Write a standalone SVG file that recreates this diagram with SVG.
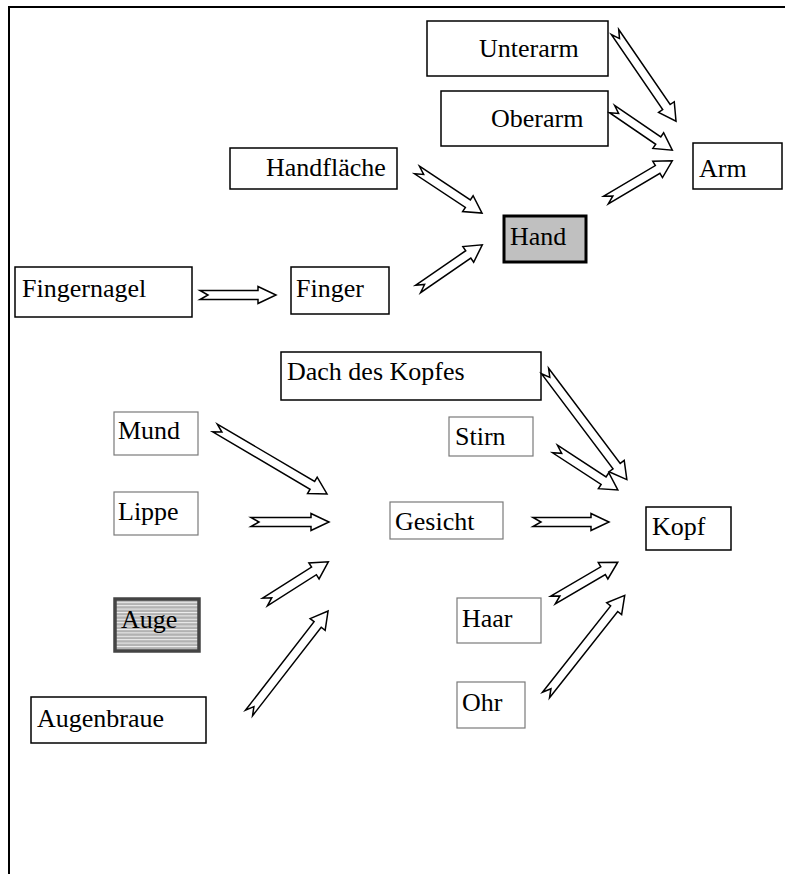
<svg xmlns="http://www.w3.org/2000/svg" width="785" height="874" viewBox="0 0 785 874">
  <style>
    .box { fill: #ffffff; stroke: #000000; stroke-width: 1.5; }
    .thin { fill: #ffffff; stroke: #7a7a7a; stroke-width: 1.2; }
    .lbl { font-family: "Liberation Serif", "Times New Roman", serif; font-size: 26px; fill: #000000; }
    .arr { fill: #ffffff; stroke: #000000; stroke-width: 1.5; stroke-linejoin: miter; }
    .frame { fill: none; stroke: #000000; stroke-width: 2; }
  </style>
  <defs>
    <pattern id="stripes" patternUnits="userSpaceOnUse" width="8" height="3.4">
      <rect width="8" height="3.4" fill="#b2b2b2"/>
      <rect y="0" width="8" height="1" fill="#f0f0f0"/>
    </pattern>
  </defs>

  <!-- page frame -->
  <path class="frame" d="M9,874 V7 H785"/>

  <!-- arm hierarchy -->
  <g id="unterarm"><rect class="box" x="427" y="21" width="181" height="55"/><text class="lbl" x="479" y="57">Unterarm</text></g>
  <g id="oberarm"><rect class="box" x="441" y="91" width="167" height="55"/><text class="lbl" x="491" y="127">Oberarm</text></g>
  <g id="arm"><rect class="box" x="693" y="143" width="89" height="46"/><text class="lbl" x="699" y="177">Arm</text></g>
  <g id="handflaeche"><rect class="box" x="230" y="148" width="167" height="41"/><text class="lbl" x="266" y="176">Handfläche</text></g>
  <g id="hand"><rect x="504" y="216" width="82" height="46" fill="#c0c0c0" stroke="#000000" stroke-width="3"/><text class="lbl" x="510" y="245">Hand</text></g>
  <g id="fingernagel"><rect class="box" x="15" y="267" width="177" height="50"/><text class="lbl" x="22" y="297">Fingernagel</text></g>
  <g id="finger"><rect class="box" x="291" y="267" width="98" height="47"/><text class="lbl" x="296" y="297">Finger</text></g>

  <!-- head hierarchy -->
  <g id="dach-des-kopfes"><rect class="box" x="281" y="352" width="260" height="48"/><text class="lbl" x="287" y="380">Dach des Kopfes</text></g>
  <g id="mund"><rect class="thin" x="114" y="412" width="84" height="43"/><text class="lbl" x="118" y="439">Mund</text></g>
  <g id="stirn"><rect class="thin" x="449" y="417" width="84" height="39"/><text class="lbl" x="455" y="445">Stirn</text></g>
  <g id="lippe"><rect class="thin" x="114" y="492" width="84" height="43"/><text class="lbl" x="118" y="520">Lippe</text></g>
  <g id="gesicht"><rect class="thin" x="390" y="502" width="113" height="37"/><text class="lbl" x="395" y="530">Gesicht</text></g>
  <g id="kopf"><rect class="box" x="646" y="507" width="85" height="43"/><text class="lbl" x="652" y="535">Kopf</text></g>
  <g id="auge"><rect x="115" y="599" width="84" height="52" fill="url(#stripes)" stroke="#444444" stroke-width="3.5"/><text class="lbl" x="121" y="628">Auge</text></g>
  <g id="haar"><rect class="thin" x="457" y="598" width="84" height="45"/><text class="lbl" x="462" y="627">Haar</text></g>
  <g id="ohr"><rect class="thin" x="457" y="682" width="68" height="46"/><text class="lbl" x="462" y="711">Ohr</text></g>
  <g id="augenbraue"><rect class="box" x="31" y="697" width="175" height="46"/><text class="lbl" x="37" y="727">Augenbraue</text></g>

  <!-- notched block arrows: tail at origin, tip at (L,0) -->
  <g id="connectors">
    <polygon class="arr" transform="translate(615,32) rotate(55.6)" points="0,-4.5 91,-4.5 91,-9.5 108,0 91,9.5 91,4.5 0,4.5 8,0"/>
    <polygon class="arr" transform="translate(612,109) rotate(34.3)" points="0,-4.5 56,-4.5 56,-9.5 73,0 56,9.5 56,4.5 0,4.5 8,0"/>
    <polygon class="arr" transform="translate(606,200) rotate(-30.6)" points="0,-4.5 60,-4.5 60,-9.5 77,0 60,9.5 60,4.5 0,4.5 8,0"/>
    <polygon class="arr" transform="translate(417,170) rotate(33.5)" points="0,-4.5 61,-4.5 61,-9.5 78,0 61,9.5 61,4.5 0,4.5 8,0"/>
    <polygon class="arr" transform="translate(418,289) rotate(-34.5)" points="0,-4.5 61,-4.5 61,-9.5 78,0 61,9.5 61,4.5 0,4.5 8,0"/>
    <polygon class="arr" transform="translate(200,295)" points="0,-4.5 58,-4.5 58,-8.5 76,0 58,8.5 58,4.5 0,4.5 8,0"/>
    <polygon class="arr" transform="translate(545,371) rotate(53)" points="0,-4.5 119,-4.5 119,-9.5 136,0 119,9.5 119,4.5 0,4.5 8,0"/>
    <polygon class="arr" transform="translate(555,449) rotate(33.1)" points="0,-4.5 58,-4.5 58,-9.5 75,0 58,9.5 58,4.5 0,4.5 8,0"/>
    <polygon class="arr" transform="translate(533,522)" points="0,-4.5 58,-4.5 58,-8.5 76,0 58,8.5 58,4.5 0,4.5 8,0"/>
    <polygon class="arr" transform="translate(553,600) rotate(-30.3)" points="0,-4.5 58,-4.5 58,-9.5 75,0 58,9.5 58,4.5 0,4.5 8,0"/>
    <polygon class="arr" transform="translate(546,695) rotate(-51.7)" points="0,-4.5 110,-4.5 110,-9.5 127,0 110,9.5 110,4.5 0,4.5 8,0"/>
    <polygon class="arr" transform="translate(215,428) rotate(30.5)" points="0,-4.5 113,-4.5 113,-9.5 130,0 113,9.5 113,4.5 0,4.5 8,0"/>
    <polygon class="arr" transform="translate(251,522)" points="0,-4.5 60,-4.5 60,-8.5 78,0 60,8.5 60,4.5 0,4.5 8,0"/>
    <polygon class="arr" transform="translate(265,602) rotate(-32.4)" points="0,-4.5 58,-4.5 58,-9.5 75,0 58,9.5 58,4.5 0,4.5 8,0"/>
    <polygon class="arr" transform="translate(249,713) rotate(-52.2)" points="0,-4.5 112,-4.5 112,-9.5 129,0 112,9.5 112,4.5 0,4.5 8,0"/>
  </g>
</svg>
